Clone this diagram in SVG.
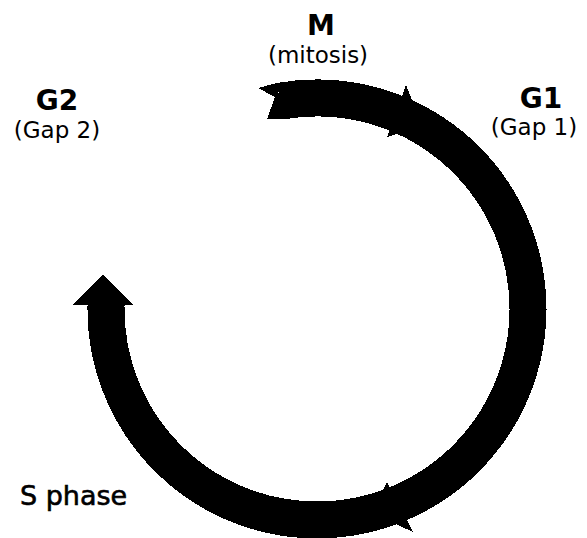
<svg xmlns="http://www.w3.org/2000/svg" width="587" height="538" viewBox="0 0 587 538">
  <style>
    .title { font-family: "DejaVu Sans", "Liberation Sans", sans-serif; font-weight: bold; font-size: 28px; fill: #000; text-anchor: middle; }
    .sub { font-family: "DejaVu Sans", "Liberation Sans", sans-serif; font-size: 23px; fill: #000; text-anchor: middle; }
    .label { font-family: "DejaVu Sans", "Liberation Sans", sans-serif; font-size: 27px; fill: #000; stroke: #000; stroke-width: 0.6; }
    .band { fill: none; stroke: #000; stroke-width: 37; stroke-linecap: butt; }
    .solid { fill: #000; stroke: none; }
  </style>
  <rect width="587" height="538" fill="#fff"/>
  <g id="connectors" shape-rendering="crispEdges">
    <path class="band" d="M 280.1 101.2 A 211 211 0 1 1 106.06 304"/>
    <polygon class="solid" points="276.8,82.9 258,88 275,97 267,119 283.3,119.4"/>
    <polygon class="solid" points="406,85 387,137 422.5,126.3"/>
    <polygon class="solid" points="387,482 413,532 371.6,512.8"/>
    <polygon class="solid" points="73,305 103,274 133,305"/>
  </g>
  <g id="node-M">
    <text class="title" x="321" y="35">M</text>
    <text class="sub" x="318" y="63">(mitosis)</text>
  </g>
  <g id="node-G1">
    <text class="title" x="541" y="108">G1</text>
    <text class="sub" x="534" y="135">(Gap 1)</text>
  </g>
  <g id="node-G2">
    <text class="title" x="57" y="110">G2</text>
    <text class="sub" x="57" y="138">(Gap 2)</text>
  </g>
  <g id="node-S">
    <text class="label" x="20" y="505">S phase</text>
  </g>
</svg>
